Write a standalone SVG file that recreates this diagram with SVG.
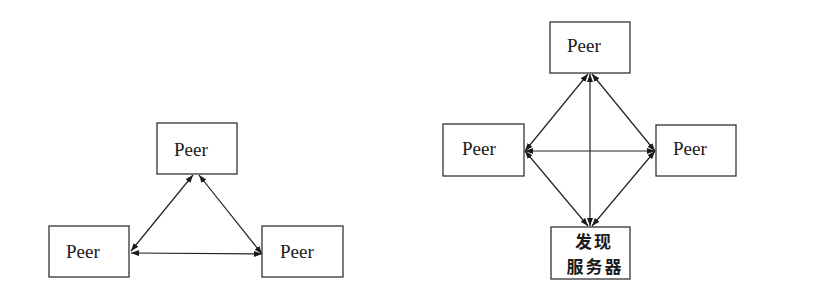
<svg xmlns="http://www.w3.org/2000/svg" width="817" height="285" viewBox="0 0 817 285">
  <defs>
    <marker id="ah" viewBox="0 0 8 6" refX="8" refY="3" markerWidth="8" markerHeight="6" markerUnits="userSpaceOnUse" orient="auto-start-reverse">
      <path d="M0,0 L8,3 L0,6 z" fill="#1a1a1a"/>
    </marker>
  </defs>
  <style>
    .box { fill: #ffffff; stroke: #333333; stroke-width: 1.3; }
    .lbl { font-family: "Liberation Serif", "Times New Roman", serif; font-size: 19px; fill: #1a1a1a; }
    .cjk { font-family: "Noto Sans CJK SC", sans-serif; font-size: 17px; font-weight: bold; letter-spacing: 2px; fill: #1a1a1a; text-anchor: middle; }
    .cn { stroke: #222222; stroke-width: 1.2; fill: none; marker-start: url(#ah); marker-end: url(#ah); }
  </style>
  <rect width="817" height="285" fill="#ffffff"/>

  <g id="connectors">
    <line class="cn" x1="193" y1="175" x2="131" y2="251"/>
    <line class="cn" x1="199" y1="175" x2="262" y2="254"/>
    <line class="cn" x1="131" y1="253" x2="262" y2="254"/>

    <line class="cn" x1="590" y1="74" x2="590" y2="226"/>
    <line class="cn" x1="588" y1="74" x2="525" y2="151"/>
    <line class="cn" x1="592" y1="74" x2="655" y2="151"/>
    <line class="cn" x1="525" y1="151" x2="588" y2="226"/>
    <line class="cn" x1="655" y1="151" x2="592" y2="226"/>
    <line class="cn" x1="525" y1="151" x2="655" y2="151"/>
  </g>

  <g id="peer-left-top">
    <rect class="box" x="157" y="123" width="80" height="51"/>
    <text class="lbl" x="174" y="156">Peer</text>
  </g>
  <g id="peer-left-left">
    <rect class="box" x="49" y="226" width="80" height="51"/>
    <text class="lbl" x="66" y="258">Peer</text>
  </g>
  <g id="peer-left-right">
    <rect class="box" x="262" y="226" width="81" height="51"/>
    <text class="lbl" x="280" y="258">Peer</text>
  </g>

  <g id="peer-right-top">
    <rect class="box" x="550" y="22" width="80" height="51"/>
    <text class="lbl" x="567" y="52">Peer</text>
  </g>
  <g id="peer-right-left">
    <rect class="box" x="443" y="124" width="81" height="52"/>
    <text class="lbl" x="462" y="155">Peer</text>
  </g>
  <g id="peer-right-right">
    <rect class="box" x="656" y="125" width="80" height="51"/>
    <text class="lbl" x="673" y="155">Peer</text>
  </g>
  <g id="discovery-server">
    <rect class="box" x="551" y="227" width="79" height="52"/>
    <text class="cjk" x="594" y="248">发现</text>
    <text class="cjk" x="595" y="273">服务器</text>
  </g>
</svg>
